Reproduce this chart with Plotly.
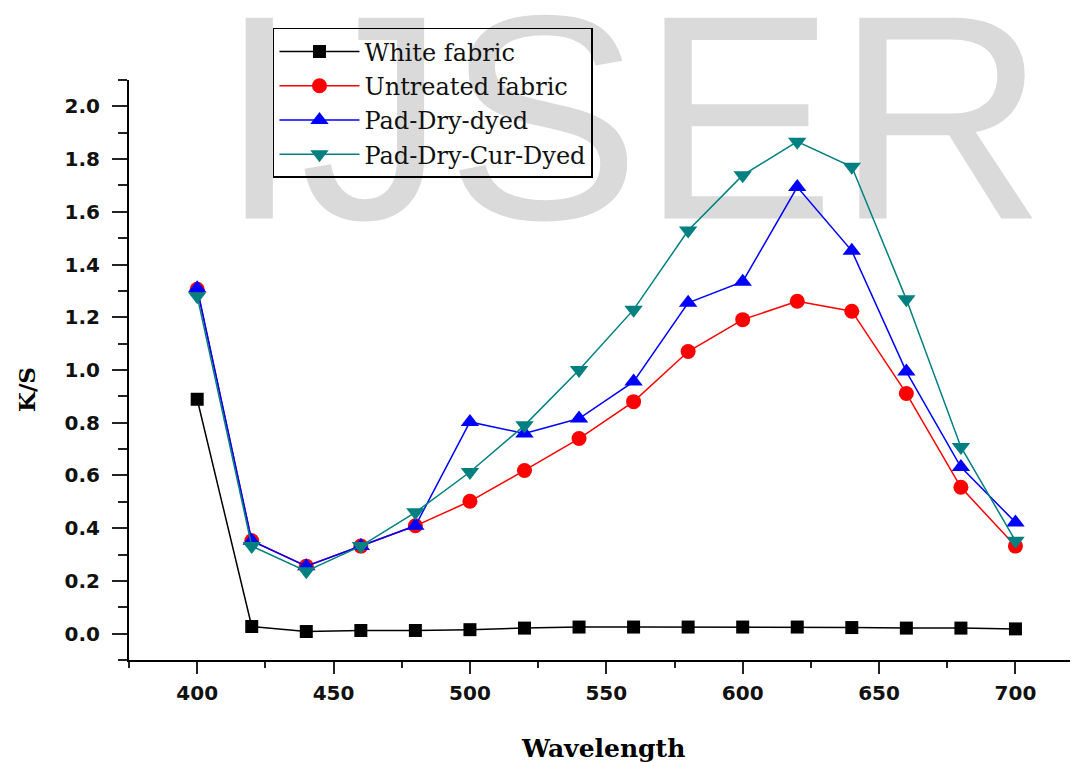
import plotly.graph_objects as go

# ---------------- data ----------------
wavelength = [400, 420, 440, 460, 480, 500, 520, 540, 560, 580, 600, 620, 640, 660, 680, 700]

white_fabric = [0.889, 0.027, 0.008, 0.012, 0.012, 0.015, 0.021, 0.025, 0.025, 0.025,
                0.025, 0.025, 0.023, 0.021, 0.021, 0.018]
untreated_fabric = [1.306, 0.352, 0.256, 0.332, 0.409, 0.502, 0.619, 0.740, 0.880, 1.070,
                    1.191, 1.261, 1.223, 0.911, 0.555, 0.332]
pad_dry_dyed = [1.310, 0.352, 0.256, 0.332, 0.409, 0.803, 0.759, 0.816, 0.956, 1.255,
                1.335, 1.694, 1.452, 0.994, 0.632, 0.422]
pad_dry_cur_dyed = [1.280, 0.332, 0.237, 0.332, 0.460, 0.613, 0.790, 1.000, 1.229, 1.529,
                    1.739, 1.866, 1.771, 1.268, 0.708, 0.352]

series_names = ["White fabric", "Untreated fabric", "Pad-Dry-dyed", "Pad-Dry-Cur-Dyed"]
series_values = [white_fabric, untreated_fabric, pad_dry_dyed, pad_dry_cur_dyed]
series_colors = ["#000000", "#ff0000", "#0000ff", "#008080"]
series_symbols = ["square", "circle", "triangle-up", "triangle-down"]
series_sizes = [13, 15, 16, 16]

watermark_text = "IJSER"
x_title = "Wavelength"
y_title = "K/S"

# ---------------- figure ----------------
fig = go.Figure()

# watermark on hidden base axes (drawn beneath the data subplot)
fig.add_trace(go.Scatter(
    x=[0.535], y=[0.887], mode="text", text=[watermark_text],
    textposition="middle center",
    textfont=dict(family="Liberation Sans, Arial, sans-serif", size=292, color="#dadada"),
    cliponaxis=False, showlegend=False, hoverinfo="skip",
    xaxis="x", yaxis="y",
))

for i, (name, vals, col, sym, sz) in enumerate(zip(series_names, series_values, series_colors,
                                                   series_symbols, series_sizes)):
    fig.add_trace(go.Scatter(
        x=wavelength, y=vals, name=name, mode="lines+markers",
        line=dict(color=col, width=1.5),
        marker=dict(symbol=sym, size=sz, color=col, line=dict(width=0)),
        xaxis="x2", yaxis="y2", legendgroup="g%d" % i,
    ))

tickfont = dict(family="DejaVu Sans, Verdana, sans-serif", size=20, color="#111111", weight="bold")

fig.update_layout(
    width=1074, height=763,
    margin=dict(l=129, r=4, t=80, b=103),
    paper_bgcolor="white", plot_bgcolor="rgba(0,0,0,0)",
    showlegend=True,
    xaxis=dict(domain=[0, 1], range=[0, 1], visible=False, fixedrange=True),
    yaxis=dict(domain=[0, 1], range=[0, 1], visible=False, fixedrange=True),
    xaxis2=dict(
        overlaying="x", anchor="y2", side="bottom",
        range=[375, 720], tick0=400, dtick=50,
        showline=True, linecolor="black", linewidth=2,
        ticks="outside", ticklen=12, tickwidth=2, tickcolor="#222222",
        minor=dict(ticks="outside", ticklen=6, tickwidth=2, dtick=25, tick0=400, tickcolor="#222222"),
        showgrid=False, zeroline=False, tickfont=tickfont, ticklabelstandoff=2,
    ),
    yaxis2=dict(
        overlaying="y", anchor="x2", side="left",
        range=[-0.1, 2.1], tick0=0, dtick=0.2, tickformat=".1f",
        showline=True, linecolor="black", linewidth=2,
        ticks="outside", ticklen=15, tickwidth=2, tickcolor="#222222",
        minor=dict(ticks="outside", ticklen=9, tickwidth=2, dtick=0.1, tick0=0, tickcolor="#222222"),
        showgrid=False, zeroline=False, tickfont=tickfont, ticklabelstandoff=8,
    ),
    legend=dict(
        x=0.153, y=1.0897, xanchor="left", yanchor="top",
        bgcolor="rgba(0,0,0,0)", bordercolor="black", borderwidth=1.5,
        font=dict(family="DejaVu Serif, Liberation Serif, serif", size=24, color="#111111"),
        itemwidth=80, tracegroupgap=2, traceorder="normal",
    ),
    annotations=[
        dict(text=x_title, xref="paper", yref="paper", x=0.504, y=-0.152,
             xanchor="center", yanchor="middle", showarrow=False,
             font=dict(family="DejaVu Serif, Liberation Serif, serif", size=25, color="black", weight="bold")),
        dict(text=y_title, xref="paper", yref="paper", x=-0.1095, y=0.467,
             xanchor="center", yanchor="middle", showarrow=False, textangle=-90,
             font=dict(family="DejaVu Serif, Liberation Serif, serif", size=23, color="black", weight="bold")),
    ],
)

fig.write_html("out.html")
